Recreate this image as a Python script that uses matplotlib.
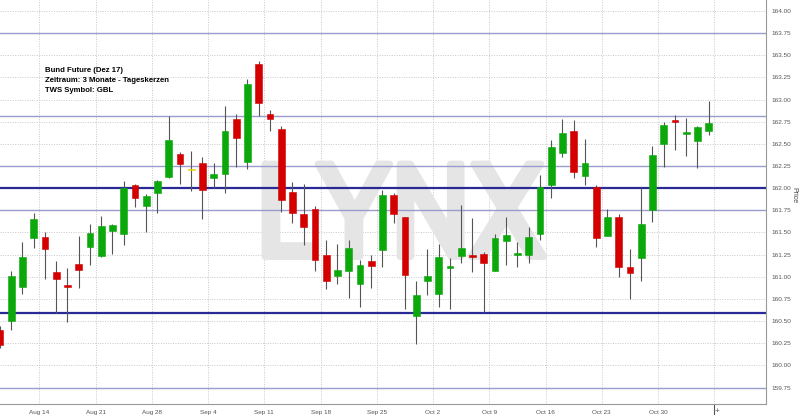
import matplotlib
matplotlib.use('Agg')
import matplotlib.pyplot as plt
import matplotlib.patheffects as pe
import numpy as np

# daily candles, Bund Future Dez 17 (first one is cut by the left edge)
opens = [160.40, 160.50, 160.88, 161.44, 161.45, 161.05, 160.90, 161.14, 161.34, 161.23,
         161.52, 161.48, 162.04, 161.80, 161.95, 162.13, 162.39, 162.20, 162.28, 162.12,
         162.16, 162.78, 162.30, 163.40, 162.84, 162.67, 161.96, 161.71, 161.77, 161.25,
         161.01, 161.07, 160.92, 161.18, 161.30, 161.92, 161.67, 160.56, 160.95, 160.81,
         161.10, 161.23, 161.25, 161.26, 161.07, 161.40, 161.25, 161.25, 161.48, 162.04,
         162.40, 162.65, 162.14, 162.01, 161.46, 161.68, 161.11, 161.21, 161.75, 162.50,
         162.77, 162.61, 162.53, 162.65]
highs = [160.45, 161.07, 161.39, 161.72, 161.50, 161.18, 161.10, 161.46, 161.60, 161.69,
         161.60, 162.08, 162.05, 161.93, 162.09, 162.81, 162.41, 162.42, 162.35, 162.28,
         162.93, 162.84, 163.23, 163.43, 162.88, 162.70, 162.07, 162.05, 161.80, 161.42,
         161.37, 161.41, 161.19, 161.25, 161.98, 161.95, 161.68, 160.95, 161.31, 161.37,
         161.21, 161.81, 161.66, 161.28, 161.48, 161.67, 161.39, 161.56, 162.15, 162.54,
         162.78, 162.77, 162.56, 162.04, 161.77, 161.71, 161.31, 162.00, 162.48, 162.75,
         162.83, 162.79, 162.70, 162.98]
lows = [160.20, 160.40, 160.81, 161.33, 160.98, 160.59, 160.49, 160.87, 161.13, 161.22,
        161.26, 161.36, 161.79, 161.50, 161.72, 162.12, 162.05, 161.97, 161.65, 162.00,
        161.95, 162.24, 162.22, 162.81, 162.64, 161.73, 161.61, 161.36, 161.07, 160.86,
        160.92, 160.76, 160.66, 160.87, 161.11, 161.61, 160.64, 160.24, 160.79, 160.66,
        160.64, 161.15, 161.05, 160.60, 161.07, 161.13, 161.11, 161.15, 161.42, 161.89,
        162.35, 162.12, 162.04, 161.34, 161.46, 161.00, 160.75, 160.95, 161.62, 162.24,
        162.43, 162.36, 162.23, 162.60]
closes = [160.23, 161.01, 161.22, 161.65, 161.31, 160.97, 160.89, 161.08, 161.49, 161.57,
          161.58, 162.00, 161.89, 161.91, 162.08, 162.54, 162.27, 162.20, 161.98, 162.16,
          162.64, 162.57, 163.18, 162.96, 162.78, 161.87, 161.72, 161.56, 161.19, 160.95,
          161.08, 161.32, 161.13, 161.12, 161.92, 161.71, 161.02, 160.79, 161.01, 161.22,
          161.11, 161.32, 161.22, 161.16, 161.44, 161.47, 161.26, 161.45, 162.01, 162.46,
          162.62, 162.18, 162.28, 161.44, 161.68, 161.11, 161.04, 161.60, 162.37, 162.71,
          162.75, 162.62, 162.69, 162.74]

week_labels = ['Aug 14', 'Aug 21', 'Aug 28', 'Sep 4', 'Sep 11', 'Sep 18', 'Sep 25',
               'Oct 2', 'Oct 9', 'Oct 16', 'Oct 23', 'Oct 30']
first_monday = 4  # index of the Aug 14 candle

support_light = [163.75, 162.82, 162.25, 161.75, 159.75]
support_strong = [162.00, 160.59]

header = ['Bund Future (Dez 17)', 'Zeitraum: 3 Monate - Tageskerzen', 'TWS Symbol: GBL']

plt.rcParams['font.family'] = ['Liberation Sans', 'DejaVu Sans']

o = np.array(opens)
h = np.array(highs)
l = np.array(lows)
c = np.array(closes)
x = np.arange(len(o))
colors = np.where(c > o, '#0aa80a', np.where(c < o, '#d40000', '#f0d000'))

fig = plt.figure(figsize=(8, 4.15), dpi=100)
ax = fig.add_axes([0, 11 / 415, 766 / 800, 404 / 415])

ax.vlines(x, l, h, color='#555555', lw=0.8, zorder=3)
ax.bar(x, np.maximum(np.abs(c - o), 0.02), bottom=np.minimum(o, c), width=0.6,
       color=colors, edgecolor=colors, linewidth=0.4, zorder=4)

for v in support_light:
    ax.axhline(v, color='#9c9ccc', lw=1.0, zorder=2)
for v in support_strong:
    ax.axhline(v, color='#2a2a96', lw=1.6, zorder=2)

ax.set_xlim(0.0, 68.1)
ax.set_ylim(159.564, 164.124)

yt = np.arange(159.75, 164.01, 0.25)
ax.set_yticks(yt, ['%.2f' % v for v in yt])
ax.yaxis.tick_right()
ax.tick_params(axis='y', length=0, pad=4, labelsize=4.6, labelcolor='#555555')
ax.set_ylabel('Price', rotation=270, fontsize=5, color='#444444', va='center')
ax.yaxis.set_label_coords(1.036, 0.517)

xt = [first_monday - 0.5 + 5 * k for k in range(len(week_labels))]
ax.set_xticks(xt, week_labels)
ax.set_xticks([xt[-1] + 5], ['+'], minor=True)
ax.tick_params(axis='x', which='major', length=0, pad=4, labelsize=4.6, labelcolor='#555555')
ax.tick_params(axis='x', which='minor', length=9, width=0.8, color='#555555', pad=-6,
               labelsize=6, labelcolor='#555555')
for t in ax.get_xticklabels(minor=True):
    t.set_horizontalalignment('left')

ax.set_axisbelow(True)
ax.grid(True, which='both', color='#c8c8c8', ls=(0, (1, 1.5)), lw=0.7)

for s in ['top', 'left']:
    ax.spines[s].set_visible(False)
for s in ['right', 'bottom']:
    ax.spines[s].set_color('#999999')
    ax.spines[s].set_linewidth(0.8)

# watermark, stroke makes the narrow font look heavier
ax.text(0.522, 0.458, 'LYNX', transform=ax.transAxes, ha='center', va='center',
        fontsize=97, fontweight='black', family=['Archivo Narrow', 'DejaVu Sans'],
        color='#e5e5e5', zorder=1,
        path_effects=[pe.withStroke(linewidth=5, foreground='#e5e5e5')])

for k, line in enumerate(header):
    fig.text(45 / 800, 1 - (70.7 + 9.7 * k) / 415, line, fontsize=5.6,
             fontweight='bold', va='center', color='black')

fig.savefig('out.png', dpi=100)
